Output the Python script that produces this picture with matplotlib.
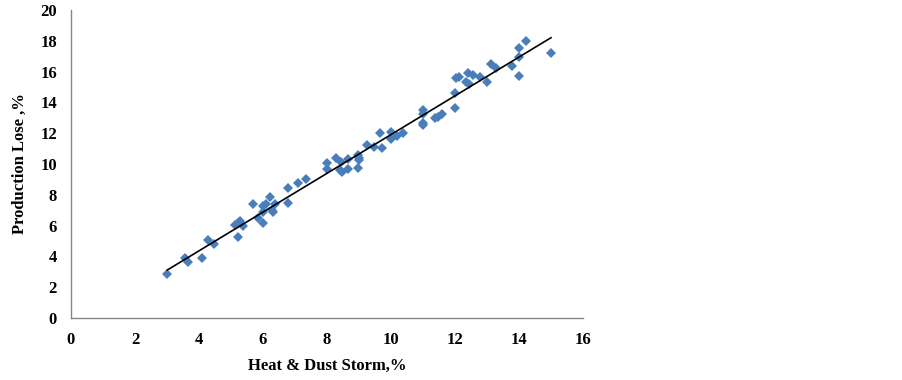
import numpy as np
import matplotlib.pyplot as plt

# Heat & Dust Storm (%) vs Production Lose (%)
heat_dust = [3.01, 3.55, 3.67, 4.10, 4.28, 4.46, 5.23, 5.12, 5.21, 5.28, 5.38,
             5.69, 5.85, 5.99, 6.01, 6.09, 6.22, 6.38, 6.28, 6.32, 5.99, 6.78,
             6.78, 7.09, 7.34, 8.01, 8.01, 8.28, 8.41, 8.46, 8.43, 8.67, 8.67,
             8.98, 9.01, 8.99, 8.98, 9.26, 9.47, 9.71, 9.66, 9.99, 9.99, 10.2,
             10.37, 10.99, 10.99, 10.99, 11.01, 11.38, 11.48, 11.58, 12.01,
             12.01, 12.03, 12.14, 12.42, 12.57, 12.34, 12.45, 12.78, 13.0,
             13.13, 13.28, 13.79, 14.0, 14.0, 14.0, 14.23, 15.0]
prod_lose = [2.88, 3.88, 3.66, 3.90, 5.06, 4.80, 5.24, 6.04, 6.15, 6.30, 5.97,
             7.38, 6.47, 6.15, 7.29, 7.38, 7.88, 7.42, 7.03, 6.87, 6.86, 7.45,
             8.42, 8.74, 9.00, 10.04, 9.65, 10.37, 9.61, 9.50, 10.13, 9.65,
             10.30, 10.58, 10.37, 10.24, 9.72, 11.23, 11.08, 11.02, 11.99,
             12.10, 11.62, 11.80, 12.03, 13.50, 13.25, 12.64, 12.53, 12.97,
             13.07, 13.25, 13.60, 14.63, 15.56, 15.67, 15.89, 15.78, 15.35,
             15.20, 15.63, 15.30, 16.49, 16.20, 16.38, 17.55, 16.97, 15.68,
             18.00, 17.20]

x = np.array(heat_dust)
y = np.array(prod_lose)
slope, intercept = np.polyfit(x, y, 1)
xs = np.array([x.min(), x.max()])

plt.rcParams['font.family'] = ['Liberation Serif', 'DejaVu Serif']

fig = plt.figure(figsize=(9.02, 3.80), dpi=100)
ax = fig.add_axes([0.0787, 0.163, 0.5676, 0.811])

ax.plot(x, y, 'D', color='#4A7EBB', markersize=5, markeredgewidth=0)
ax.plot(xs, slope * xs + intercept, color='black', linewidth=1.2)

ax.set_xlim(0, 16)
ax.set_ylim(0, 20)
ax.set_xticks(range(0, 17, 2))
ax.set_yticks(range(0, 21, 2))

for s in ['top', 'right']:
    ax.spines[s].set_visible(False)
for s in ['left', 'bottom']:
    ax.spines[s].set_color('#868686')
    ax.spines[s].set_linewidth(1)

ax.tick_params(length=0, labelsize=12)
ax.tick_params(axis='x', pad=10)
ax.tick_params(axis='y', pad=10)
for lab in ax.get_xticklabels() + ax.get_yticklabels():
    lab.set_fontweight('bold')

ax.set_xlabel('Heat & Dust Storm,%', fontsize=12, fontweight='bold', labelpad=7)
ax.set_ylabel('Production Lose ,%', fontsize=12, fontweight='bold', labelpad=9)

plt.savefig('out.png', dpi=100)
